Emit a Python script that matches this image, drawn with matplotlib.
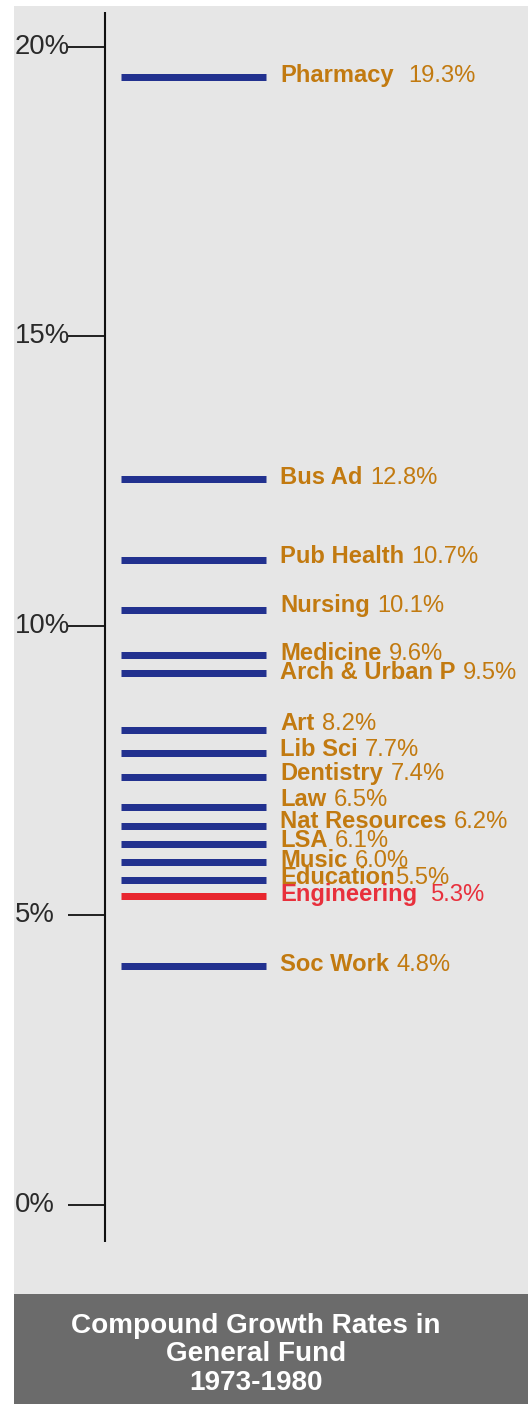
import matplotlib
matplotlib.use("Agg")
import matplotlib.pyplot as plt
from matplotlib.patches import Rectangle

# ---------------- data ----------------
categories = ["Pharmacy", "Bus Ad", "Pub Health", "Nursing", "Medicine",
              "Arch & Urban P", "Art", "Lib Sci", "Dentistry", "Law",
              "Nat Resources", "LSA", "Music", "Education", "Engineering",
              "Soc Work"]
rate_labels = ["19.3%", "12.8%", "10.7%", "10.1%", "9.6%", "9.5%", "8.2%",
               "7.7%", "7.4%", "6.5%", "6.2%", "6.1%", "6.0%", "5.5%",
               "5.3%", "4.8%"]
# where each bar is drawn on the percent scale
bar_positions = [19.48, 12.54, 11.14, 10.28, 9.50, 9.19, 8.20, 7.81, 7.39,
                 6.87, 6.55, 6.23, 5.92, 5.61, 5.34, 4.13]
# baseline of each label on the percent scale
label_positions = [19.39, 12.44, 11.08, 10.24, 9.41, 9.08, 8.20, 7.75, 7.33,
                   6.88, 6.50, 6.18, 5.84, 5.55, 5.24, 4.04]
# number of spaces between name and value in each label
label_spaces = [2, 1, 1, 1, 1, 1, 1, 1, 1, 1, 1, 1, 1, 0, 2, 1]
highlight = "Engineering"
tick_values = [0, 5, 10, 15, 20]
tick_labels = ["0%", "5%", "10%", "15%", "20%"]
title_lines = ["Compound Growth Rates in", "General Fund", "1973-1980"]

# ---------------- style ----------------
W, H = 528, 1404
FONT = "Liberation Sans"
BG = "#e6e6e6"
BOX = "#6b6b6b"
BLUE = "#22318f"
RED = "#e8262e"
ORANGE = "#c27a10"
RED_TXT = "#e8303c"
label_px = 23.8
tick_px = 27.5
title_px = 27.9
pt = lambda px: px * 72 / 100

fig = plt.figure(figsize=(W / 100, H / 100), dpi=100)
fig.patch.set_facecolor("white")

# panel backgrounds
fig.add_artist(Rectangle((14 / W, 110 / H), 1 - 14 / W, 1288 / H,
                         transform=fig.transFigure, facecolor=BG,
                         edgecolor="none", zorder=0))
fig.add_artist(Rectangle((14 / W, 0), 1 - 14 / W, 110 / H,
                         transform=fig.transFigure, facecolor=BOX,
                         edgecolor="none", zorder=0))

# axes: y = percent, x = pixel units
y0 = H - 1205
y20 = H - 46.5
ax = fig.add_axes([0, y0 / H, 1, (y20 - y0) / H])
ax.set_xlim(0, W)
ax.set_ylim(0, 20)
ax.axis("off")
ax.patch.set_visible(False)

# axis line and ticks
ax.plot([105, 105], [-0.64, 20.6], color="#111111", lw=1.5,
        clip_on=False, solid_capstyle="butt")
ax.hlines(tick_values, 68, 105, color="#111111", lw=1.3, clip_on=False)
for v, lab in zip(tick_values, tick_labels):
    ax.text(15, v, lab, ha="left", va="center", fontsize=pt(tick_px),
            family=FONT, color="#2a2a2a", clip_on=False)

# bars
colors = [RED if c == highlight else BLUE for c in categories]
ax.hlines(bar_positions, 121, 266, colors=colors, lw=pt(7),
          clip_on=False)

# labels
fig.canvas.draw()
renderer = fig.canvas.get_renderer()
space_px = 0.278 * label_px
for name, val, ypos, nsp in zip(categories, rate_labels, label_positions,
                                label_spaces):
    col = RED_TXT if name == highlight else ORANGE
    t = ax.text(280, ypos, name, ha="left", va="baseline",
                fontsize=pt(label_px), family=FONT, fontweight="bold",
                color=col, clip_on=False)
    bb = t.get_window_extent(renderer)
    xv = ax.transData.inverted().transform((bb.x1 + nsp * space_px + 1, 0))[0]
    ax.text(xv, ypos, val, ha="left", va="baseline",
            fontsize=pt(label_px), family=FONT, color=col, clip_on=False)

# title in dark box
baselines = [1333, 1361, 1390]
for line, b in zip(title_lines, baselines):
    fig.text(256 / W, (H - b) / H, line, ha="center", va="baseline",
             fontsize=pt(title_px), family=FONT, fontweight="bold",
             color="white")

fig.savefig("out.png", dpi=100, facecolor=fig.get_facecolor())
